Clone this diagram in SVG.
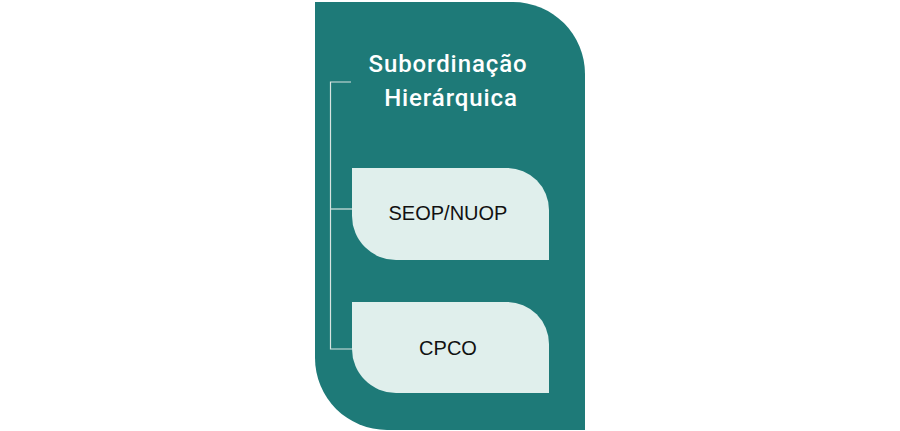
<svg xmlns="http://www.w3.org/2000/svg" width="900" height="431" viewBox="0 0 900 431">
<style>
.title{font-family:Roboto,"Liberation Sans",Arial,sans-serif;font-weight:500;font-size:24px;fill:#ffffff;text-anchor:middle;letter-spacing:0.9px}
.lbl{font-family:"Liberation Sans",Arial,sans-serif;font-size:20px;fill:#111111;text-anchor:middle}
.box{fill:#e0efec}
.con{fill:none;stroke:#d8e4e1;stroke-width:1.2}
</style>
<rect width="900" height="431" fill="#ffffff"/>
<g id="container">
<path d="M315,2 H513 A72,72 0 0 1 585,74 V430 H387 A72,72 0 0 1 315,358 Z" fill="#1e7a78"/>
<text class="title" x="448" y="72">Subordinação</text>
<text class="title" x="451" y="106">Hierárquica</text>
</g>
<g id="connectors">
<path class="con" d="M351,82 H330.5 V349 H352"/>
<path class="con" d="M330.5,209 H352"/>
</g>
<g id="seop">
<path class="box" d="M352,168 H507 A42,42 0 0 1 549,210 V260 H396 A44,44 0 0 1 352,216 Z"/>
<text class="lbl" x="448" y="220">SEOP/NUOP</text>
</g>
<g id="cpco">
<path class="box" d="M352,302 H507 A42,42 0 0 1 549,344 V393 H396 A44,44 0 0 1 352,349 Z"/>
<text class="lbl" x="448" y="355">CPCO</text>
</g>
</svg>
